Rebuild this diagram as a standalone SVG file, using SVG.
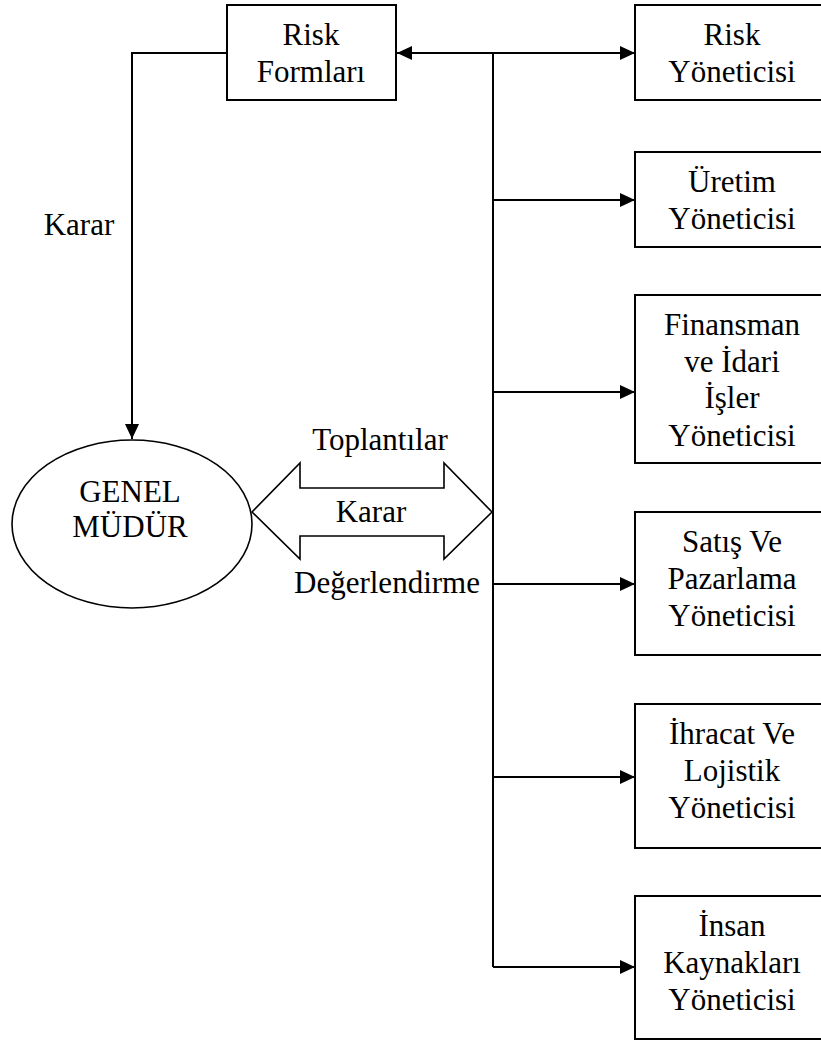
<svg xmlns="http://www.w3.org/2000/svg" width="821" height="1041" viewBox="0 0 821 1041">
  <style>
    .box { fill: #fff; stroke: #000; stroke-width: 2; }
    .line { fill: none; stroke: #000; stroke-width: 2; }
    .thin { fill: #fff; stroke: #000; stroke-width: 1.6; }
    text { font-family: "Liberation Serif", "Times New Roman", serif; font-size: 31px; fill: #000; text-anchor: middle; }
  </style>
  <defs>
    <marker id="arrow" markerUnits="userSpaceOnUse" markerWidth="16" markerHeight="14" refX="15" refY="7" orient="auto">
      <path d="M0,0 L15,7 L0,14 Z" fill="#000"/>
    </marker>
  </defs>
  <rect width="821" height="1041" fill="#fff"/>

  <!-- connectors -->
  <g id="connectors">
    <path class="line" d="M227,53 H132 V439" marker-end="url(#arrow)"/>
    <path class="line" d="M493,53 V967"/>
    <path class="line" d="M493,53 H397" marker-end="url(#arrow)"/>
    <path class="line" d="M493,53 H635" marker-end="url(#arrow)"/>
    <path class="line" d="M493,200 H635" marker-end="url(#arrow)"/>
    <path class="line" d="M493,392 H635" marker-end="url(#arrow)"/>
    <path class="line" d="M493,584 H635" marker-end="url(#arrow)"/>
    <path class="line" d="M493,777 H635" marker-end="url(#arrow)"/>
    <path class="line" d="M493,967 H635" marker-end="url(#arrow)"/>
    <text x="79" y="235">Karar</text>
  </g>

  <!-- two-way block arrow between the general manager and the managers -->
  <g id="exchange">
    <path class="thin" d="M252,512 L300,463 V488 H444 V463 L492,512 L444,559 V536 H300 V559 Z"/>
    <text x="380" y="450">Toplantılar</text>
    <text x="371" y="522">Karar</text>
    <text x="387" y="593">Değerlendirme</text>
  </g>

  <g id="genel-mudur">
    <ellipse class="thin" cx="132" cy="524" rx="120" ry="84"/>
    <text x="130" y="502">GENEL</text>
    <text x="130" y="537">MÜDÜR</text>
  </g>

  <g id="risk-formlari">
    <rect class="box" x="227" y="5" width="169" height="95"/>
    <text x="311" y="45">Risk</text>
    <text x="311" y="82">Formları</text>
  </g>

  <g id="risk-yoneticisi">
    <rect class="box" x="635" y="5" width="194" height="95"/>
    <text x="732" y="45">Risk</text>
    <text x="732" y="82">Yöneticisi</text>
  </g>

  <g id="uretim-yoneticisi">
    <rect class="box" x="635" y="152" width="194" height="95"/>
    <text x="732" y="192">Üretim</text>
    <text x="732" y="229">Yöneticisi</text>
  </g>

  <g id="finansman-yoneticisi">
    <rect class="box" x="635" y="295" width="194" height="168"/>
    <text x="732" y="335">Finansman</text>
    <text x="732" y="372">ve İdari</text>
    <text x="732" y="408">İşler</text>
    <text x="732" y="446">Yöneticisi</text>
  </g>

  <g id="satis-yoneticisi">
    <rect class="box" x="635" y="512" width="194" height="143"/>
    <text x="732" y="552">Satış Ve</text>
    <text x="732" y="589">Pazarlama</text>
    <text x="732" y="626">Yöneticisi</text>
  </g>

  <g id="ihracat-yoneticisi">
    <rect class="box" x="635" y="704" width="194" height="144"/>
    <text x="732" y="744">İhracat Ve</text>
    <text x="732" y="781">Lojistik</text>
    <text x="732" y="818">Yöneticisi</text>
  </g>

  <g id="insan-kaynaklari-yoneticisi">
    <rect class="box" x="635" y="896" width="194" height="143"/>
    <text x="732" y="936">İnsan</text>
    <text x="732" y="973">Kaynakları</text>
    <text x="732" y="1010">Yöneticisi</text>
  </g>
</svg>
